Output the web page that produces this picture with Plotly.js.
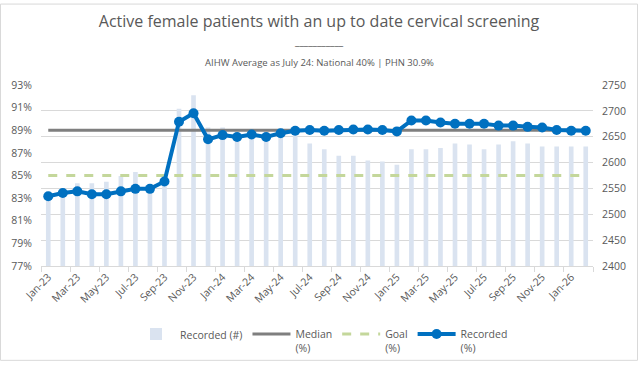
<!DOCTYPE html>
<html>
<head>
<meta charset="utf-8">
<script src="https://cdn.plot.ly/plotly-3.0.1.min.js"></script>
<style>
html,body{margin:0;padding:0;background:#fff;}
#chart{width:638px;height:373px;}
</style>
</head>
<body>
<div id="chart"></div>
<script>
const months = ["Jan-23","Feb-23","Mar-23","Apr-23","May-23","Jun-23","Jul-23","Aug-23","Sep-23","Oct-23","Nov-23","Dec-23",
"Jan-24","Feb-24","Mar-24","Apr-24","May-24","Jun-24","Jul-24","Aug-24","Sep-24","Oct-24","Nov-24","Dec-24",
"Jan-25","Feb-25","Mar-25","Apr-25","May-25","Jun-25","Jul-25","Aug-25","Sep-25","Oct-25","Nov-25","Dec-25",
"Jan-26","Feb-26"];
const recordedCount = [2528,2538,2560,2560,2563,2574,2582,2550,2560,2704,2730,2668,
2668,2645,2650,2648,2655,2655,2637,2626,2613,2613,2604,2602,
2596,2626,2626,2628,2637,2635,2626,2635,2641,2637,2631,2631,
2631,2631];
const recordedPct = [83.17,83.45,83.6,83.34,83.34,83.6,83.82,83.82,84.47,89.75,90.5,88.2,
88.57,88.4,88.62,88.4,88.74,88.96,89.02,88.96,89.02,89.07,89.07,89.02,
88.9,89.86,89.86,89.69,89.58,89.58,89.58,89.41,89.41,89.3,89.24,89.02,
88.96,88.96];
const medianPct = [89,89,89,89,89,89,89,89,89,89,89,89,89,89,89,89,89,89,89,89,89,89,89,89,89,89,89,89,89,89,89,89,89,89,89,89,89,89];
const goalPct = [85,85,85,85,85,85,85,85,85,85,85,85,85,85,85,85,85,85,85,85,85,85,85,85,85,85,85,85,85,85,85,85,85,85,85,85,85,85];
const tickLabels = ["Jan-23","Mar-23","May-23","Jul-23","Sep-23","Nov-23","Jan-24","Mar-24","May-24","Jul-24","Sep-24","Nov-24","Jan-25","Mar-25","May-25","Jul-25","Sep-25","Nov-25","Jan-26"];

const idx = months.map((m,i)=>i);
const tickVals = tickLabels.map(l => months.indexOf(l));
const boundaryVals = [];
for (let i = 0; i <= months.length; i += 2) boundaryVals.push(i - 0.5);

const FONT = "Open Sans, sans-serif";
const TXT = "#595959";

const traces = [
  {type:'bar', x: idx, y: recordedCount, name:'Recorded (#)', yaxis:'y', width:0.32,
   marker:{color:'#dae3f0'}, hoverinfo:'y'},
  {type:'scatter', mode:'lines', x: idx, y: medianPct, name:'Median<br>(%)', yaxis:'y2',
   line:{color:'#7f7f7f', width:3}},
  {type:'scatter', mode:'lines', x: idx, y: goalPct, name:'Goal<br>(%)', yaxis:'y2',
   line:{color:'#c4d79b', width:3, dash:'dash'}},
  {type:'scatter', mode:'lines+markers', x: idx, y: recordedPct, name:'Recorded<br>(%)', yaxis:'y2',
   line:{color:'#0070c0', width:4}, marker:{color:'#0070c0', size:10}}
];

const layout = {
  width:638, height:373,
  margin:{l:41, r:45, t:85, b:99},
  paper_bgcolor:'#fff', plot_bgcolor:'#fff',
  font:{family:FONT, color:TXT, size:10.5},
  showlegend:true,
  title:{text:'Active female patients with an up to date cervical screening',
    font:{family:FONT, size:16, color:TXT}, x:0.5, xref:'container', xanchor:'center',
    y:1-21/373, yref:'container', yanchor:'middle'},
  annotations:[
    {text:'___________', xref:'paper', yref:'paper', x:(319-41)/552, y:(274-39)/189,
     xanchor:'center', yanchor:'middle', showarrow:false, font:{family:FONT, size:10, color:TXT}},
    {text:'AIHW Average as July 24: National 40% | PHN 30.9%', xref:'paper', yref:'paper',
     x:(319-41)/552, y:(274-62)/189, xanchor:'center', yanchor:'middle', showarrow:false,
     font:{family:FONT, size:9.5, color:TXT}}
  ],
  xaxis:{range:[-0.5, months.length-0.5], tickmode:'array', tickvals:tickVals, ticktext:tickLabels,
    tickangle:-45, ticks:'', showgrid:false, zeroline:false, showline:true, linecolor:'#d9d9d9', linewidth:1,
    tickfont:{size:10.5, color:TXT},
    minor:{tickmode:'array', tickvals:boundaryVals, ticks:'outside', ticklen:5, tickcolor:'#d9d9d9', tickwidth:1, showgrid:false},
    fixedrange:true},
  yaxis:{range:[2400,2750], tick0:2400, dtick:50, side:'right', showgrid:true, gridcolor:'#d9d9d9', gridwidth:1,
    zeroline:false, showline:false, ticks:'', ticklabelstandoff:8, tickfont:{size:10.5, color:TXT}},
  yaxis2:{range:[77,93], tick0:77, dtick:2, side:'left', overlaying:'y', ticksuffix:'%', showgrid:false,
    zeroline:false, showline:false, ticks:'', ticklabelstandoff:8, tickfont:{size:10.5, color:TXT}},
  legend:{orientation:'h', x:(132-41)/552, xanchor:'left', y:(274-331)/189, yanchor:'top',
    font:{size:10.5, color:TXT}, valign:'top', traceorder:'normal', bgcolor:'rgba(0,0,0,0)',
    itemwidth:38},
  shapes:[
    {type:'rect', xref:'paper', yref:'paper', x0:(0.5-41)/552, x1:(637.5-41)/552,
     y0:(274-372.5)/189, y1:(274-0.5)/189, line:{color:'#d9d9d9', width:1}, layer:'below'}
  ]
};

Plotly.newPlot('chart', traces, layout, {staticPlot:true, displayModeBar:false});
</script>
</body>
</html>
